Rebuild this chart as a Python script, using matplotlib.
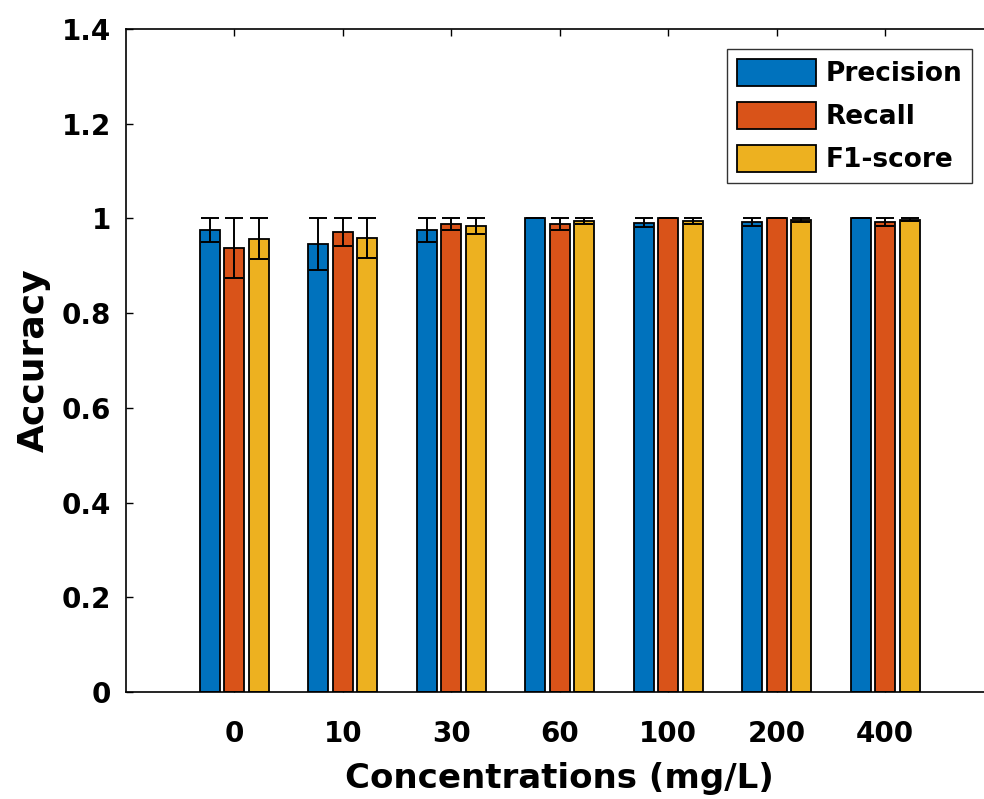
import numpy as np
import matplotlib
matplotlib.use("Agg")
import matplotlib.pyplot as plt

# Datos
conc = ['0', '10', '30', '60', '100', '200', '400']
precision = [0.975, 0.946, 0.975, 1.000, 0.991, 0.992, 1.000]
recall = [0.937, 0.971, 0.988, 0.988, 1.000, 1.000, 0.992]
f1 = [0.957, 0.958, 0.984, 0.994, 0.994, 0.996, 0.997]
precision_err = [0.025, 0.054, 0.025, 0.0, 0.009, 0.008, 0.0]
recall_err = [0.063, 0.029, 0.012, 0.012, 0.0, 0.0, 0.008]
f1_err = [0.043, 0.042, 0.016, 0.006, 0.006, 0.004, 0.003]
series_names = ['Precision', 'Recall', 'F1-score']

plt.rcParams['font.family'] = ['DejaVu Sans']
plt.rcParams['font.weight'] = 'bold'

fig = plt.figure(figsize=(9.84, 7.99), dpi=100)
ax = fig.add_axes([126/984, 107/799, 867.5/984, 663/799])

colores = ['#0072BD', '#D95319', '#EDB120']
valores = [precision, recall, f1]
errores = [precision_err, recall_err, f1_err]

x = np.arange(1, len(conc) + 1)
paso = 0.226
ancho = 0.185
for k in range(3):
    xs = x + (k - 1) * paso
    ax.bar(xs, valores[k], ancho, color=colores[k], edgecolor='black',
           linewidth=1.3, label=series_names[k], zorder=2)
    ax.errorbar(xs, valores[k], yerr=errores[k], fmt='none', ecolor='black',
                elinewidth=1.4, capsize=6.5, capthick=1.4, zorder=3)

ax.set_xlim(0, 8)
ax.set_ylim(0, 1.4)
ax.set_xticks(x)
ax.set_xticklabels(conc)
ax.set_yticks([0, 0.2, 0.4, 0.6, 0.8, 1.0, 1.2, 1.4])
ax.set_yticklabels(['0', '0.2', '0.4', '0.6', '0.8', '1', '1.2', '1.4'])
ax.tick_params(direction='in', length=5, width=1, labelsize=20,
               top=True, right=True)
ax.tick_params(axis='x', pad=20)
ax.tick_params(axis='y', pad=10.5)
for s in ax.spines.values():
    s.set_linewidth(1.2)

ax.set_xlabel('Concentrations (mg/L)', fontsize=24.5, fontweight='bold', labelpad=10)
ax.set_ylabel('Accuracy', fontsize=26, fontweight='bold', labelpad=8)

leg = ax.legend(loc='upper right', bbox_to_anchor=(972/984, 1 - 49/799),
                bbox_transform=fig.transFigure, fontsize=19, frameon=True,
                fancybox=False, edgecolor='black', handlelength=3.0,
                handleheight=1.2, handletextpad=0.35, borderpad=0.38,
                labelspacing=0.55, borderaxespad=0)
leg.get_frame().set_linewidth(1.0)
for t in leg.get_texts():
    t.set_fontweight('bold')

plt.savefig('out.png', dpi=100)
